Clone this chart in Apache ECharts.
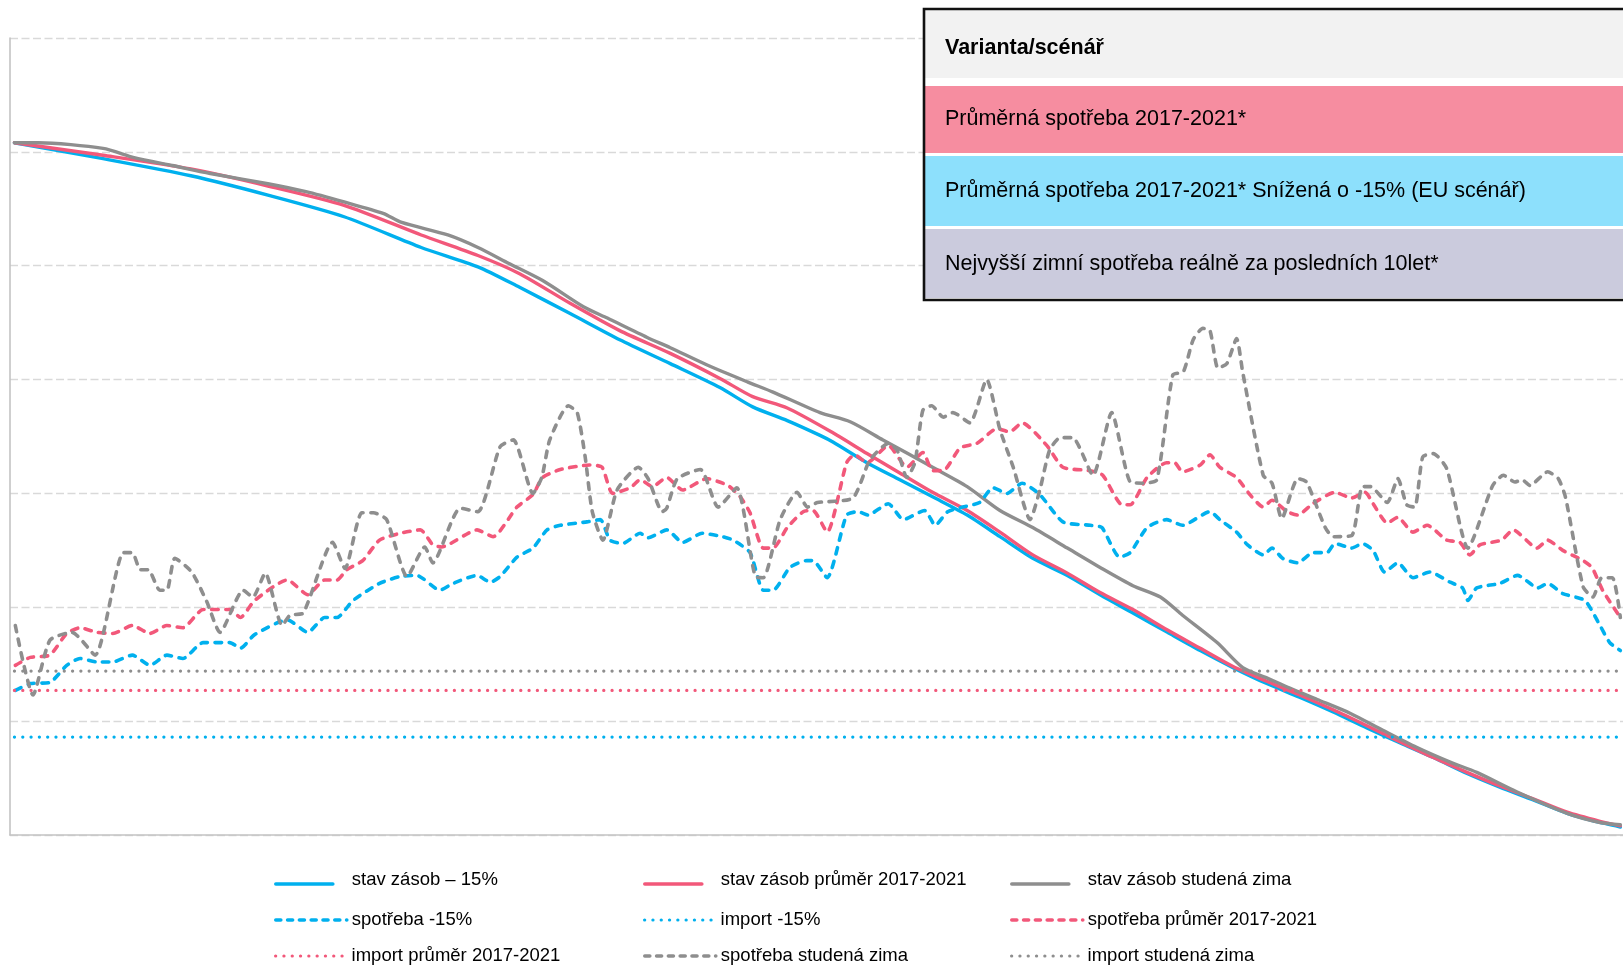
<!DOCTYPE html>
<html><head><meta charset="utf-8">
<script src="https://cdn.jsdelivr.net/npm/echarts@6/dist/echarts.min.js"></script>
<style>html,body{margin:0;padding:0;background:#fff}#c{width:1623px;height:966px}</style>
</head><body><div id="c"></div>
<script>
// ---- DATA (x = day of heating season, y = relative units; no tick labels in source) ----
const xMax = 182;
const yMax = 70;
const yInterval = 10;

const seriesNames = [
  'stav zásob – 15%', 'stav zásob průměr 2017-2021', 'stav zásob studená zima',
  'spotřeba -15%', 'import -15%', 'spotřeba průměr 2017-2021',
  'import průměr 2017-2021', 'spotřeba studená zima', 'import studená zima'
];

const stavMinus15 = [[0.5,60.8],[10.5,59.4],[20.4,57.9],[29.1,56.2],[37.7,54.3],[46.4,51.6],[52.8,49.9],[57.5,48.1],[63.2,45.8],[68.8,43.5],[74.5,41.4],[80.1,39.3],[83.8,37.6],[87.7,36.4],[91.4,35.1],[92.9,34.5],[96.7,32.7],[100.4,31.2],[104.1,29.7],[108.0,28.1],[111.7,26.2],[115.4,24.3],[119.3,22.8],[123.0,21.1],[126.7,19.5],[130.6,17.8],[134.3,16.2],[138.0,14.7],[141.8,13.3],[145.5,12.1],[149.3,10.8],[153.1,9.4],[156.8,8.1],[160.6,6.8],[164.4,5.4],[168.1,4.2],[171.8,3.1],[175.7,1.9],[179.4,1.1],[181.7,0.7]];

const stavPrumer = [[0.5,60.8],[10.5,59.7],[20.4,58.5],[29.1,57.0],[37.7,55.3],[46.4,52.7],[52.8,50.9],[57.5,49.3],[63.2,46.7],[68.8,44.3],[74.5,42.3],[80.1,40.1],[83.8,38.5],[87.7,37.5],[92.9,35.3],[96.7,33.5],[100.4,31.8],[104.1,30.1],[108.0,28.5],[111.7,26.6],[115.4,24.6],[119.3,23.0],[123.0,21.3],[126.7,19.8],[130.6,18.0],[134.3,16.4],[138.0,14.8],[141.8,13.5],[145.5,12.3],[149.3,11.0],[153.1,9.6],[156.8,8.2],[160.6,6.8],[164.4,5.5],[168.1,4.3],[171.8,3.2],[175.7,2.0],[179.4,1.2],[181.7,0.8]];

const stavZima = [[0.5,60.8],[3.2,60.8],[10.5,60.3],[14.0,59.5],[18.3,58.8],[22.6,58.1],[29.1,57.2],[33.4,56.5],[37.7,55.6],[42.1,54.6],[44.2,53.8],[49.4,52.7],[52.8,51.6],[56.3,50.2],[60.1,48.7],[64.7,46.4],[67.4,45.4],[71.9,43.7],[74.5,42.8],[78.6,41.3],[83.2,39.8],[86.1,38.9],[91.4,37.1],[94.8,36.3],[98.5,34.7],[104.1,32.3],[108.0,30.6],[111.7,28.5],[115.4,27.0],[119.3,25.2],[123.0,23.5],[126.7,21.9],[129.8,20.9],[132.3,19.3],[136.2,16.9],[139.1,14.7],[141.8,13.8],[144.4,12.9],[147.5,11.9],[151.2,10.7],[154.9,9.2],[158.7,7.7],[162.5,6.4],[165.5,5.5],[170.0,3.8],[175.7,1.9],[179.4,1.1],[181.7,0.9]];

const spotrebaMinus15 = [[0.6,12.7],[2.3,13.3],[4.5,13.4],[6.4,14.9],[7.9,15.5],[9.8,15.2],[11.6,15.2],[13.8,15.8],[15.8,14.9],[17.7,15.8],[19.5,15.5],[21.8,16.9],[24.8,16.9],[26.0,16.4],[27.6,17.6],[31.3,18.9],[33.6,17.8],[35.5,19.1],[36.9,19.1],[38.7,20.6],[41.7,22.1],[44.0,22.7],[45.9,22.8],[48.5,21.5],[50.0,22.1],[52.7,22.8],[54.2,22.2],[55.3,22.7],[57.2,24.4],[59.0,25.2],[60.6,26.8],[62.1,27.2],[65.1,27.5],[66.6,27.7],[67.7,25.9],[69.1,25.6],[71.1,26.5],[72.0,26.1],[74.1,26.8],[75.9,25.7],[78.1,26.5],[80.4,26.2],[81.6,25.9],[83.5,24.8],[85.0,21.5],[86.1,21.5],[88.0,23.5],[89.9,24.1],[90.6,24.1],[92.2,22.6],[94.4,28.1],[95.7,28.4],[96.8,28.1],[99.1,29.1],[100.8,27.7],[103.2,28.5],[104.4,27.2],[105.8,28.4],[107.5,28.8],[109.4,29.2],[110.9,30.5],[112.5,30.0],[114.2,30.9],[116.2,29.9],[118.8,27.5],[121.9,27.2],[123.2,27.0],[125.2,24.4],[126.4,24.8],[128.3,27.0],[130.5,27.7],[132.3,27.2],[135.4,28.4],[136.5,27.7],[138.4,26.6],[139.6,25.5],[141.4,24.6],[142.4,25.2],[143.6,24.3],[145.3,23.9],[147.0,24.8],[148.6,24.8],[149.5,25.6],[151.4,25.2],[152.6,25.6],[153.8,25.0],[155.1,23.1],[156.6,23.9],[158.3,22.6],[160.2,23.1],[162.5,22.2],[163.9,21.7],[164.5,20.6],[165.5,21.7],[168.1,22.1],[170.1,22.8],[172.4,21.7],[173.5,22.1],[175.2,21.2],[177.7,20.6],[179.2,18.7],[180.5,16.9],[181.7,16.2]];

const spotrebaPrumer = [[0.6,14.9],[2.3,15.6],[4.5,15.8],[6.4,17.7],[7.9,18.2],[9.8,17.8],[11.6,17.7],[13.8,18.4],[15.8,17.7],[17.7,18.4],[19.5,18.2],[21.8,19.8],[24.8,19.8],[26.0,19.1],[27.6,20.6],[31.3,22.4],[33.6,21.1],[35.5,22.4],[36.9,22.4],[38.0,23.3],[39.8,24.1],[41.7,25.9],[44.0,26.5],[46.3,26.8],[47.7,25.5],[48.7,25.3],[52.7,26.8],[54.5,26.2],[57.2,28.8],[59.0,29.9],[60.1,31.4],[62.1,32.1],[65.4,32.5],[66.8,32.3],[68.0,30.0],[70.0,30.5],[71.1,31.2],[72.5,30.6],[74.1,31.4],[75.9,30.3],[78.6,31.3],[81.0,30.7],[82.4,29.7],[83.5,28.3],[85.0,25.2],[86.1,25.2],[87.7,27.0],[89.5,28.4],[90.6,28.5],[92.2,26.6],[94.4,32.7],[95.3,33.4],[96.7,32.7],[99.1,34.2],[101.2,32.3],[103.0,33.6],[104.1,32.0],[105.3,32.0],[107.2,34.0],[109.1,34.4],[111.4,35.7],[112.8,35.4],[114.2,36.2],[117.0,34.2],[118.8,32.3],[121.9,32.0],[123.3,31.6],[125.5,29.0],[126.4,29.0],[128.3,31.4],[130.5,32.7],[131.4,32.7],[132.3,31.9],[134.3,32.5],[135.4,33.4],[136.5,32.3],[138.4,31.4],[139.9,29.9],[141.4,28.8],[142.4,29.4],[144.1,28.4],[145.3,28.1],[147.0,29.1],[149.5,30.1],[151.4,29.6],[152.9,30.1],[153.8,29.1],[155.4,27.4],[156.6,27.9],[158.3,26.6],[159.9,27.2],[162.1,25.9],[163.6,25.7],[164.7,24.6],[165.9,25.5],[168.3,25.9],[169.6,26.8],[172.3,25.2],[173.5,25.9],[175.2,25.0],[177.5,24.1],[178.5,23.5],[179.7,21.5],[181.7,19.1]];

const spotrebaZima = [[0.6,18.4],[2.6,12.3],[4.5,17.1],[7.0,17.8],[9.6,15.8],[12.8,24.8],[13.8,24.8],[14.7,23.3],[15.6,23.3],[16.9,21.5],[17.7,21.5],[18.6,24.3],[20.5,23.1],[22.2,20.5],[23.7,17.8],[26.3,21.5],[27.4,20.9],[28.8,23.0],[30.7,18.4],[31.6,19.3],[33.1,19.5],[36.4,25.7],[37.8,23.4],[39.7,28.3],[41.0,28.3],[42.5,27.7],[44.8,22.7],[46.8,25.3],[47.7,23.9],[50.8,28.7],[52.8,28.4],[55.3,34.1],[56.8,34.7],[59.0,30.0],[60.0,31.4],[60.9,34.7],[63.0,37.7],[64.0,37.1],[64.9,33.2],[65.7,28.4],[66.9,25.9],[68.5,30.3],[70.9,32.3],[72.0,31.3],[73.6,28.4],[74.1,28.7],[75.3,31.3],[77.9,32.1],[79.9,28.8],[82.0,30.5],[84.1,22.7],[85.0,22.6],[86.9,27.7],[88.8,30.1],[90.0,28.8],[91.1,29.2],[95.1,29.6],[97.0,32.9],[99.1,34.4],[100.1,33.8],[101.2,31.4],[102.1,32.7],[103.0,37.3],[104.0,37.7],[105.3,36.7],[106.4,37.1],[108.3,36.2],[110.2,40.0],[111.7,35.6],[113.2,32.3],[115.1,27.7],[116.2,30.3],[117.3,33.8],[118.5,34.9],[119.9,34.9],[122.2,31.6],[124.3,37.1],[126.4,31.0],[127.8,30.9],[129.4,31.2],[131.2,40.4],[132.4,40.7],[133.5,43.5],[134.6,44.5],[135.4,44.3],[136.3,41.0],[137.3,41.4],[138.4,43.6],[139.1,40.6],[141.4,31.6],[142.4,30.9],[143.5,27.8],[145.3,31.3],[146.3,31.0],[148.4,27.0],[149.3,26.2],[151.4,26.3],[152.6,30.6],[153.5,30.6],[155.4,29.2],[156.6,31.3],[157.6,29.0],[158.5,28.8],[159.4,33.2],[160.6,33.5],[162.1,32.2],[164.5,25.2],[167.3,30.7],[168.5,31.6],[169.8,31.0],[170.6,31.2],[171.5,30.7],[173.5,31.9],[174.7,31.3],[175.5,29.7],[177.5,21.8],[178.6,20.9],[179.6,22.6],[180.8,22.6],[181.7,19.1]];

const importMinus15 = 8.6;
const importPrumer = 12.7;
const importZima = 14.4;

const tableHeader = 'Varianta/scénář';
const tableRows = [
  'Průměrná spotřeba 2017-2021*',
  'Průměrná spotřeba 2017-2021* Snížená o -15% (EU scénář)',
  'Nejvyšší zimní spotřeba reálně za posledních 10let*'
];

// ---- STYLE ----
const BLUE = '#00B0EE', PINK = '#F2587A', GREY = '#8E8E8E';
const FONT = '"Liberation Sans", Arial, sans-serif';
const solid = (c) => ({ color: c, width: 3.4, type: 'solid', cap: 'round', join: 'round' });
const dashed = (c) => ({ color: c, width: 3.6, type: [6.4, 7.6], cap: 'round', join: 'round' });
const dotted = (c) => ({ color: c, width: 3.2, type: [0.1, 8.2], cap: 'round' });

function lineSeries(name, data, ls, smooth) {
  return { name, type: 'line', data, showSymbol: false, symbol: 'none', smooth: smooth,
    lineStyle: ls, itemStyle: { color: ls.color }, animation: false, silent: true };
}
const flat = (v) => [[0.5, v], [xMax, v]];

const series = [
  lineSeries(seriesNames[0], stavMinus15, solid(BLUE), 0.25),
  lineSeries(seriesNames[1], stavPrumer, solid(PINK), 0.25),
  lineSeries(seriesNames[2], stavZima, solid(GREY), 0.25),
  lineSeries(seriesNames[3], spotrebaMinus15, dashed(BLUE), 0.2),
  lineSeries(seriesNames[4], flat(importMinus15), dotted(BLUE), false),
  lineSeries(seriesNames[5], spotrebaPrumer, dashed(PINK), 0.2),
  lineSeries(seriesNames[6], flat(importPrumer), dotted(PINK), false),
  lineSeries(seriesNames[7], spotrebaZima, dashed(GREY), 0.2),
  lineSeries(seriesNames[8], flat(importZima), dotted(GREY), false)
];

// legend: 3 columns x 3 rows
const legendCols = [274, 643, 1010];
const legendRows = [881, 920, 956];
const legends = seriesNames.map((n, i) => {
  const r = Math.floor(i / 3), c = i % 3;
  const first = r === 0;
  return {
    data: [n], left: legendCols[c], top: legendRows[r] - 11, padding: 0,
    itemWidth: first ? 57 : 71, itemHeight: 14, itemGap: 0,
    selectedMode: false,
    itemStyle: { opacity: 0 },
    lineStyle: { width: 3.6, type: [5, 6.8], cap: 'round' },
    formatter: first ? '{t|{name}}' : '{name}',
    textStyle: { fontFamily: FONT, fontSize: 18.5, color: '#000', lineHeight: 22,
      padding: first ? [0, 0, 0, 14] : [0, 0, 0, 0],
      rich: { t: { fontFamily: FONT, fontSize: 18.5, color: '#000', lineHeight: 22, padding: [0, 0, 9, 0] } } }
  };
});
// solid lines for row 1 legend icons, dotted for import lines
legends[0].lineStyle.type = 'solid'; legends[1].lineStyle.type = 'solid'; legends[2].lineStyle.type = 'solid';
[4, 6, 8].forEach(i => { legends[i].lineStyle = { width: 3.2, type: [0.1, 8.2], cap: 'round' }; });

// table box graphic
const boxL = 924, boxT = 9, boxR = 1640, boxB = 300;
const rowDefs = [
  { y0: 10, y1: 78, ty: 48, fill: '#F2F2F2', text: tableHeader, bold: true },
  { y0: 86, y1: 153, ty: 119, fill: '#F68DA0', text: tableRows[0] },
  { y0: 156, y1: 226, ty: 191, fill: '#8DE0FC', text: tableRows[1] },
  { y0: 229, y1: 298, ty: 264, fill: '#CBCBDD', text: tableRows[2] }
];
const graphic = [
  { type: 'rect', z: 100, shape: { x: boxL, y: boxT, width: boxR - boxL, height: boxB - boxT }, style: { fill: '#fff', stroke: 'none' } }
];
rowDefs.forEach(r => {
  graphic.push({ type: 'rect', z: 101, shape: { x: boxL, y: r.y0, width: boxR - boxL, height: r.y1 - r.y0 }, style: { fill: r.fill } });
  graphic.push({ type: 'text', z: 102, x: 945, y: r.ty,
    style: { text: r.text, fill: '#000', font: (r.bold ? 'bold ' : '') + '21.5px ' + FONT, verticalAlign: 'middle' } });
});
graphic.push({ type: 'rect', z: 103, shape: { x: boxL, y: boxT, width: boxR - boxL, height: boxB - boxT }, style: { fill: 'none', stroke: '#111', lineWidth: 2.6 } });

const chart = echarts.init(document.getElementById('c'), null, { renderer: 'canvas' });
chart.setOption({
  animation: false,
  backgroundColor: '#fff',
  grid: { left: 10, right: 0, top: 38, bottom: 131, containLabel: false },
  xAxis: { type: 'value', min: 0, max: xMax, axisLabel: { show: false }, axisTick: { show: false },
    splitLine: { show: false }, axisLine: { show: true, onZero: false, lineStyle: { color: '#C3C3C3', width: 1.6 } } },
  yAxis: { type: 'value', min: 0, max: yMax, interval: yInterval, axisLabel: { show: false }, axisTick: { show: false },
    axisLine: { show: true, lineStyle: { color: '#C3C3C3', width: 1.6 } },
    splitLine: { show: true, lineStyle: { color: '#D9D9D9', width: 1.3, type: [8, 3.5] } } },
  legend: legends,
  series: series,
  graphic: graphic
});
</script></body></html>
